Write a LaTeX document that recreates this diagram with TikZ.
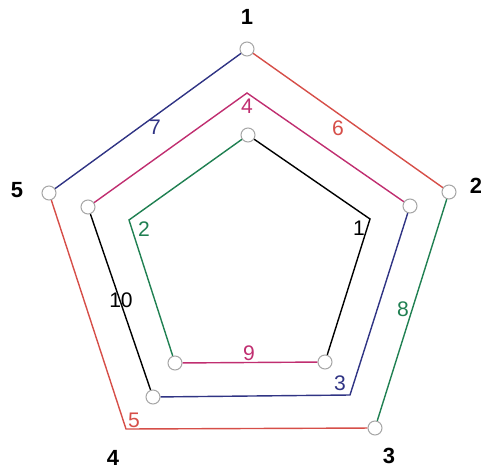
\documentclass[tikz,border=0pt]{standalone}
\usepackage{fontspec}
\setmainfont{Liberation Sans}
\usetikzlibrary{positioning}
\definecolor{pathred}{RGB}{214,78,72}
\definecolor{pathblue}{RGB}{48,52,132}
\definecolor{pathgreen}{RGB}{32,128,82}
\definecolor{pathpink}{RGB}{192,46,112}
\tikzset{
    % vertex and label styles
    vertex/.style={circle, draw=gray!70, fill=white, line width=0.6pt, minimum size=0.28cm, inner sep=0pt},
    vname/.style={font=\bfseries\fontsize{12.5}{14}\selectfont, inner sep=0pt},
    ename/.style={font=\fontsize{12}{14}\selectfont, inner sep=0pt},
    route/.style={line width=0.8pt},
}

\begin{document}
\begin{tikzpicture}[x=0.02cm, y=-0.02cm]
    \useasboundingbox (0,0) rectangle (481,471);

    % Corners without a vertex
    \coordinate (o4) at (126,429);
    \coordinate (m1) at (247,93);
    \coordinate (m3) at (350,395);
    \coordinate (i2) at (370,219);
    \coordinate (i5) at (129,220);

    % Vertices
    \node[vertex] (o1) at (247,49) {};
    \node[vertex] (o2) at (449,192) {};
    \node[vertex] (o3) at (375,428) {};
    \node[vertex] (o5) at (49,193) {};
    \node[vertex] (m2) at (410,206) {};
    \node[vertex] (m4) at (153,397) {};
    \node[vertex] (m5) at (88,207) {};
    \node[vertex] (i1) at (248,135) {};
    \node[vertex] (i3) at (325,362) {};
    \node[vertex] (i4) at (175,363) {};

    % Routes
    \draw[route, pathred] (o1) -- (o2);
    \draw[route, pathgreen] (o2) -- (o3);
    \draw[route, pathred] (o3) -- (o4) -- (o5);
    \draw[route, pathblue] (o5) -- (o1);
    \draw[route, pathpink] (m5) -- (m1) -- (m2);
    \draw[route, pathblue] (m2) -- (m3) -- (m4);
    \draw[route, black] (m4) -- (m5);
    \draw[route, black] (i1) -- (i2) -- (i3);
    \draw[route, pathgreen] (i1) -- (i5) -- (i4);
    \draw[route, pathpink] (i4) -- (i3);

    % Vertex names
    \node[vname] (n1) at (247,17) {1};
    \node[vname] (n2) at (476,186) {2};
    \node[vname] (n3) at (389,456) {3};
    \node[vname] (n4) at (113,458) {4};
    \node[vname] (n5) at (17,190) {5};

    % Route numbers
    \node[ename, text=pathred] (e6) at (338,128) {6};
    \node[ename, text=pathblue] (e7) at (155,127) {7};
    \node[ename, text=pathpink] (e4) at (247,106) {4};
    \node[ename, text=pathgreen] (e8) at (403,309) {8};
    \node[ename, text=pathblue] (e3) at (340,383) {3};
    \node[ename, text=pathred] (e5) at (134,420) {5};
    \node[ename, text=pathpink] (e9) at (249,353) {9};
    \node[ename, text=black] (e10) at (121,300) {10};
    \node[ename, text=black] (e1) at (359,228) {1};
    \node[ename, text=pathgreen] (e2) at (144,229) {2};
\end{tikzpicture}
\end{document}
